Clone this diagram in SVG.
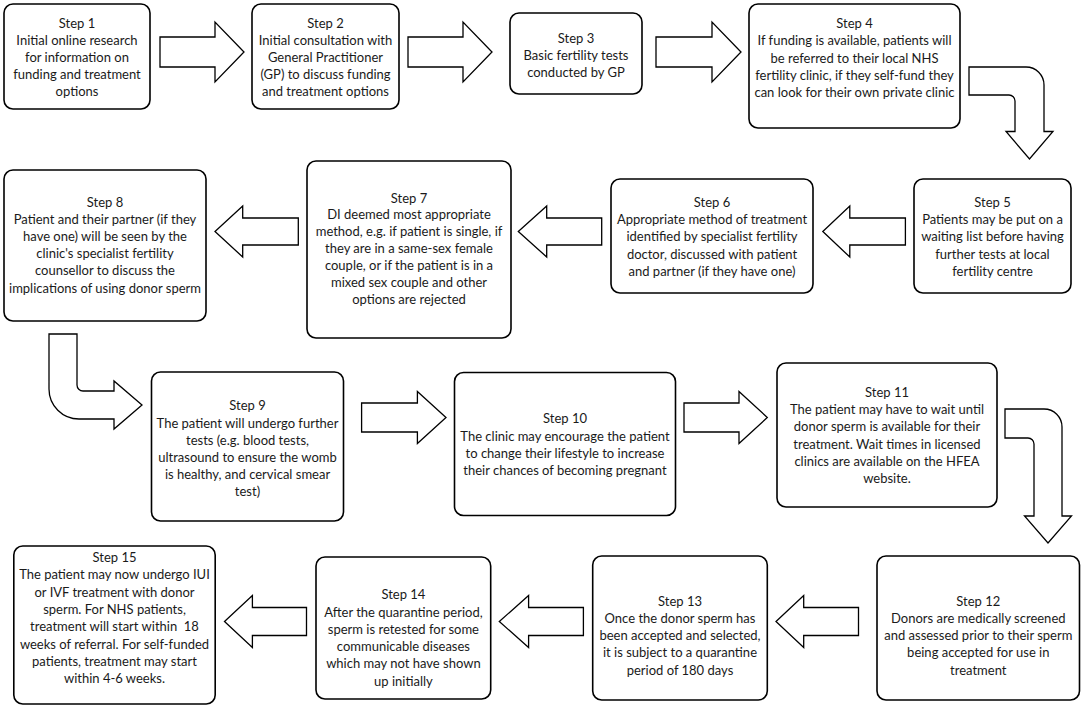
<svg xmlns="http://www.w3.org/2000/svg" width="1084" height="707" viewBox="0 0 1084 707">
<style>
.box{fill:#fff;stroke:#000;stroke-width:1.6}
.arr{fill:#fff;stroke:#000;stroke-width:1.3;stroke-linejoin:miter}
text{font-family:Lato,"Open Sans","Liberation Sans",sans-serif;font-size:13px;fill:#1a1a1a;text-anchor:middle}
</style>
<rect width="1084" height="707" fill="#fff"/>
<g id="connectors">
<polygon class="arr" points="160,37 215,37 215,22 244,52 215,82 215,67 160,67"/>
<polygon class="arr" points="408,37 463,37 463,22 492,52 463,82 463,67 408,67"/>
<polygon class="arr" points="656,37 712,37 712,22 741,52 712,82 712,67 656,67"/>
<path class="arr" d="M969 67 L1026 67 A18 18 0 0 1 1044 85 L1044 131.5 L1053 131.5 L1029.5 159 L1006 131.5 L1015 131.5 L1015 101 A6 6 0 0 0 1009 95 L969 95 Z"/>
<polygon class="arr" points="905.4,218 849.8,218 849.8,206 822.8,231.5 849.8,257 849.8,245 905.4,245"/>
<polygon class="arr" points="601.7,218 546.7,218 546.7,206 518.3,231.5 546.7,257 546.7,245 601.7,245"/>
<polygon class="arr" points="298.3,218 242.7,218 242.7,206 215,231.5 242.7,257 242.7,245 298.3,245"/>
<path class="arr" d="M49 334 L77 334 L77 385 A6 6 0 0 0 83 391 L114 391 L114 381 L142 405 L114 429 L114 419 L79 419 A30 30 0 0 1 49 389 Z"/>
<polygon class="arr" points="361.6,403 417.4,403 417.4,391.5 446,417.5 417.4,443.5 417.4,432 361.6,432"/>
<polygon class="arr" points="684,403 739,403 739,391.5 767.3,417.5 739,443.5 739,432 684,432"/>
<path class="arr" d="M1005 409 L1044 409 A18 18 0 0 1 1062 427 L1062 516 L1071.5 516 L1048 543 L1024.5 516 L1034 516 L1034 444 A6 6 0 0 0 1028 438 L1005 438 Z"/>
<polygon class="arr" points="858.5,607.5 803.7,607.5 803.7,595.5 776,621.5 803.7,647.5 803.7,635.5 858.5,635.5"/>
<polygon class="arr" points="583.4,607.5 528.6,607.5 528.6,595.5 499.3,621.5 528.6,647.5 528.6,635.5 583.4,635.5"/>
<polygon class="arr" points="306.5,607.5 252.4,607.5 252.4,595.5 224.5,621.5 252.4,647.5 252.4,635.5 306.5,635.5"/>
</g>
<g id="step1">
<rect class="box" x="4" y="4" width="146" height="105" rx="9"/>
<text><tspan x="77" y="27.5">Step 1</tspan><tspan x="77" y="44.5">Initial online research</tspan><tspan x="77" y="61.5">for information on</tspan><tspan x="77" y="78.5">funding and treatment</tspan><tspan x="77" y="95.5">options</tspan></text>
</g>
<g id="step2">
<rect class="box" x="252" y="4" width="147" height="105" rx="9"/>
<text><tspan x="325.5" y="27.5">Step 2</tspan><tspan x="325.5" y="44.5">Initial consultation with</tspan><tspan x="325.5" y="61.5">General Practitioner</tspan><tspan x="325.5" y="78.5">(GP) to discuss funding</tspan><tspan x="325.5" y="95.5">and treatment options</tspan></text>
</g>
<g id="step3">
<rect class="box" x="510" y="13" width="132" height="81" rx="9"/>
<text><tspan x="576" y="42.7">Step 3</tspan><tspan x="576" y="60">Basic fertility tests</tspan><tspan x="576" y="77.3">conducted by GP</tspan></text>
</g>
<g id="step4">
<rect class="box" x="749" y="4" width="211" height="124" rx="9"/>
<text><tspan x="854.5" y="28">Step 4</tspan><tspan x="854.5" y="45.3">If funding is available, patients will</tspan><tspan x="854.5" y="62.6">be referred to their local NHS</tspan><tspan x="854.5" y="80">fertility clinic, if they self-fund they</tspan><tspan x="854.5" y="97.3">can look for their own private clinic</tspan></text>
</g>
<g id="step5">
<rect class="box" x="914" y="179" width="157" height="114" rx="9"/>
<text><tspan x="992.5" y="206.8">Step 5</tspan><tspan x="992.5" y="224.1">Patients may be put on a</tspan><tspan x="992.5" y="241.4">waiting list before having</tspan><tspan x="992.5" y="258.7">further tests at local</tspan><tspan x="992.5" y="276">fertility centre</tspan></text>
</g>
<g id="step6">
<rect class="box" x="611" y="179" width="202" height="114" rx="9"/>
<text><tspan x="712" y="206.8">Step 6</tspan><tspan x="712" y="224.1">Appropriate method of treatment</tspan><tspan x="712" y="241.4">identified by specialist fertility</tspan><tspan x="712" y="258.7">doctor, discussed with patient</tspan><tspan x="712" y="276">and partner (if they have one)</tspan></text>
</g>
<g id="step7">
<rect class="box" x="307" y="161" width="204" height="177" rx="9"/>
<text><tspan x="409" y="202.5">Step 7</tspan><tspan x="409" y="219.4">DI deemed most appropriate</tspan><tspan x="409" y="236.3">method, e.g. if patient is single, if</tspan><tspan x="409" y="253.2">they are in a same-sex female</tspan><tspan x="409" y="270.1">couple, or if the patient is in a</tspan><tspan x="409" y="287">mixed sex couple and other</tspan><tspan x="409" y="303.9">options are rejected</tspan></text>
</g>
<g id="step8">
<rect class="box" x="4" y="170" width="202" height="151" rx="9"/>
<text><tspan x="105" y="206.5">Step 8</tspan><tspan x="105" y="223.7">Patient and their partner (if they</tspan><tspan x="105" y="240.9">have one) will be seen by the</tspan><tspan x="105" y="258.1">clinic's specialist fertility</tspan><tspan x="105" y="275.3">counsellor to discuss the</tspan><tspan x="105" y="292.5">implications of using donor sperm</tspan></text>
</g>
<g id="step9">
<rect class="box" x="151.5" y="372" width="192" height="149" rx="9"/>
<text><tspan x="247.5" y="410.3">Step 9</tspan><tspan x="247.5" y="427.5">The patient will undergo further</tspan><tspan x="247.5" y="444.7">tests (e.g. blood tests,</tspan><tspan x="247.5" y="461.9">ultrasound to ensure the womb</tspan><tspan x="247.5" y="479.1">is healthy, and cervical smear</tspan><tspan x="247.5" y="496.3">test)</tspan></text>
</g>
<g id="step10">
<rect class="box" x="454.5" y="372.5" width="221" height="143" rx="9"/>
<text><tspan x="565" y="423.2">Step 10</tspan><tspan x="565" y="440.5">The clinic may encourage the patient</tspan><tspan x="565" y="457.8">to change their lifestyle to increase</tspan><tspan x="565" y="475.1">their chances of becoming pregnant</tspan></text>
</g>
<g id="step11">
<rect class="box" x="777" y="363" width="220" height="144" rx="9"/>
<text><tspan x="887" y="396.8">Step 11</tspan><tspan x="887" y="414.1">The patient may have to wait until</tspan><tspan x="887" y="431.4">donor sperm is available for their</tspan><tspan x="887" y="448.7">treatment. Wait times in licensed</tspan><tspan x="887" y="466">clinics are available on the HFEA</tspan><tspan x="887" y="483.3">website.</tspan></text>
</g>
<g id="step12">
<rect class="box" x="877" y="556" width="202.5" height="144" rx="9"/>
<text><tspan x="978.3" y="605.5">Step 12</tspan><tspan x="978.3" y="622.8">Donors are medically screened</tspan><tspan x="978.3" y="640.1">and assessed prior to their sperm</tspan><tspan x="978.3" y="657.4">being accepted for use in</tspan><tspan x="978.3" y="674.7">treatment</tspan></text>
</g>
<g id="step13">
<rect class="box" x="592.7" y="556" width="174.6" height="144" rx="9"/>
<text><tspan x="680" y="605.5">Step 13</tspan><tspan x="680" y="622.8">Once the donor sperm has</tspan><tspan x="680" y="640.1">been accepted and selected,</tspan><tspan x="680" y="657.4">it is subject to a quarantine</tspan><tspan x="680" y="674.7">period of 180 days</tspan></text>
</g>
<g id="step14">
<rect class="box" x="316" y="557" width="174.7" height="142" rx="9"/>
<text><tspan x="403.4" y="599.2">Step 14</tspan><tspan x="403.4" y="616.5">After the quarantine period,</tspan><tspan x="403.4" y="633.8">sperm is retested for some</tspan><tspan x="403.4" y="651.1">communicable diseases</tspan><tspan x="403.4" y="668.4">which may not have shown</tspan><tspan x="403.4" y="685.7">up initially</tspan></text>
</g>
<g id="step15">
<rect class="box" x="13.8" y="546" width="201.4" height="158" rx="9"/>
<text><tspan x="114.5" y="562">Step 15</tspan><tspan x="114.5" y="579.3">The patient may now undergo IUI</tspan><tspan x="114.5" y="596.6">or IVF treatment with donor</tspan><tspan x="114.5" y="613.9">sperm. For NHS patients,</tspan><tspan x="114.5" y="631.2">treatment will start within&#160; 18</tspan><tspan x="114.5" y="648.5">weeks of referral. For self-funded</tspan><tspan x="114.5" y="665.8">patients, treatment may start</tspan><tspan x="114.5" y="683.1">within 4-6 weeks.</tspan></text>
</g>
</svg>
